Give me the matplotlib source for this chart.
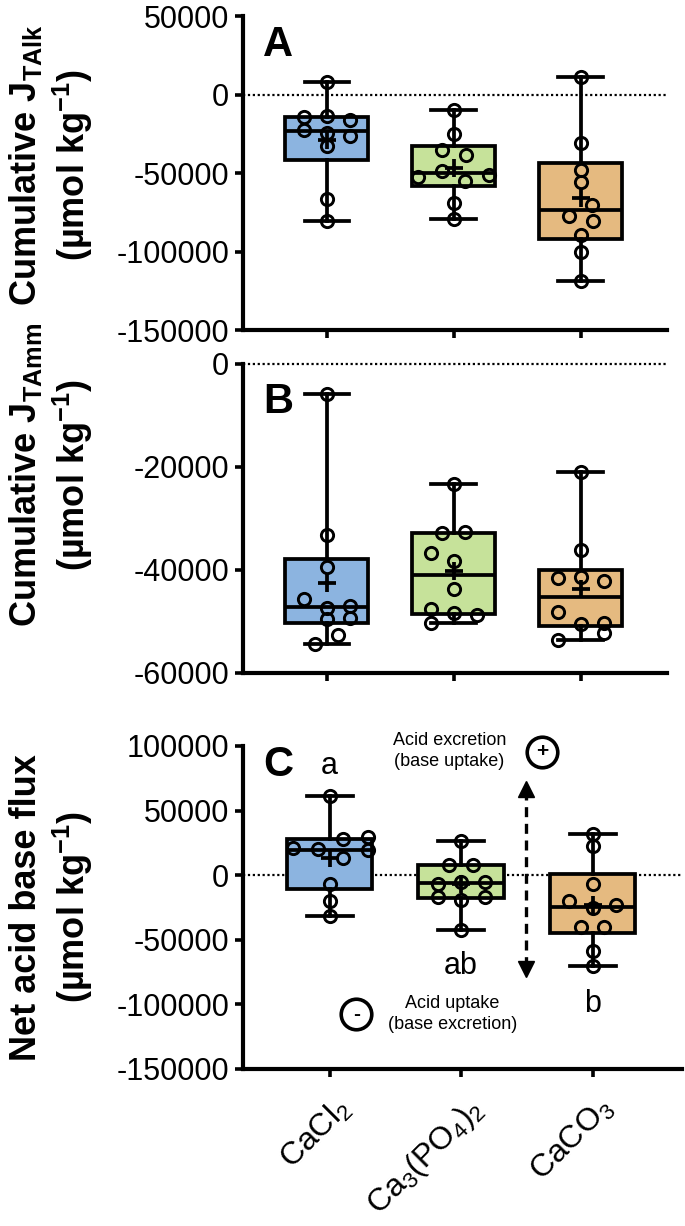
import numpy as np
import matplotlib
matplotlib.use("Agg")
import matplotlib.pyplot as plt
import matplotlib.transforms as mtransforms
from matplotlib import cbook

plt.rcParams['font.family'] = ['Liberation Sans', 'DejaVu Sans']
plt.rcParams['mathtext.fontset'] = 'custom'
plt.rcParams['mathtext.rm'] = 'Liberation Sans'
plt.rcParams['mathtext.bf'] = 'Liberation Sans:bold'
plt.rcParams['mathtext.default'] = 'regular'
plt.rcParams['axes.unicode_minus'] = False

# Categories
salts = ['CaCl$_2$', 'Ca$_3$(PO$_4$)$_2$', 'CaCO$_3$']
colors = ['#8CB4E0', '#C6E29A', '#E5BA80']

# A : cumulative J_TAlk (umol kg-1)
talk_cacl2 = [7900, -14200, -13800, -16000, -22300, -24500, -26200, -33000, -66600, -80500]
talk_capo4 = [-10000, -25100, -35600, -38500, -49000, -52200, -51500, -54900, -68800, -79200]
talk_caco3 = [11300, -30900, -47900, -55800, -70200, -77100, -80500, -89400, -100100, -118800]

# B : cumulative J_TAmm (umol kg-1)
tamm_cacl2 = [-5900, -33300, -39500, -45600, -47300, -47000, -49500, -49300, -52700, -54300]
tamm_capo4 = [-23300, -32800, -32600, -36800, -38200, -43600, -47500, -48400, -48700, -50300]
tamm_caco3 = [-20900, -36200, -41500, -41300, -42200, -48200, -50400, -50300, -52300, -53600]

# C : net acid base flux (umol kg-1)
net_cacl2 = [61400, 29800, 27800, 20700, 20000, 19400, 13000, -7200, -20200, -31900]
net_capo4 = [26400, 7800, 7800, -6500, -5200, -5700, -16900, -19400, -16900, -42200]
net_caco3 = [31600, 22600, -6500, -20200, -25400, -23300, -40200, -40200, -59100, -70000]

# horizontal jitter of the dots (as in the original scatter)
jit_a = [[0, -0.18, 0, 0.18, -0.18, 0, 0.18, 0, 0, 0],
         [0, 0, -0.09, 0.1, -0.09, -0.28, 0.28, 0.09, 0, 0],
         [0, 0, 0, 0, 0.09, -0.09, 0.1, 0, 0, 0]]
jit_b = [[0, 0, 0, -0.18, 0, 0.18, 0, 0.18, 0.09, -0.09],
         [0, -0.09, 0.09, -0.18, 0, 0, -0.18, 0, 0.18, -0.18],
         [0, 0, -0.18, 0, 0.18, -0.18, 0, 0.18, 0.18, -0.18]]
jit_c = [[0, 0.29, 0.1, -0.28, -0.09, 0.29, 0.1, 0, 0, 0],
         [0, -0.09, 0.09, -0.18, 0, 0.18, -0.18, 0, 0.18, 0],
         [0, 0, 0, -0.18, 0, 0.18, -0.09, 0.09, 0, 0]]

letters_c = ['a', 'ab', 'b']
letters_y = [84200, -70000, -99500]

fig = plt.figure(figsize=(6.85, 12.26), dpi=100)
axA = fig.add_axes([0.3547, 0.7308, 0.619, 0.2561])
axB = fig.add_axes([0.3547, 0.4511, 0.619, 0.2520])
axC = fig.add_axes([0.3547, 0.1281, 0.6409, 0.2635])


def panel(ax, groups, jitter):
    stats = cbook.boxplot_stats(groups, whis=(0, 100))
    for s, g in zip(stats, groups):
        s['q1'], s['med'], s['q3'] = np.percentile(g, [25, 50, 75], method='weibull')
    lw = 2.7
    bp = ax.bxp(stats, positions=range(3), widths=0.65, capwidths=0.35,
                showmeans=True, showfliers=False, patch_artist=True,
                boxprops=dict(linewidth=lw, edgecolor='k'),
                medianprops=dict(color='k', linewidth=lw),
                whiskerprops=dict(color='k', linewidth=lw),
                capprops=dict(color='k', linewidth=lw),
                meanprops=dict(marker='+', markersize=13, markeredgewidth=2.7,
                               markeredgecolor='k'))
    for patch, c in zip(bp['boxes'], colors):
        patch.set_facecolor(c)
    for i, (g, j) in enumerate(zip(groups, jitter)):
        ax.plot(i + np.array(j), g, 'o', ms=8.8, mfc='none', mec='k', mew=2.1, zorder=4)
    ax.axhline(0, color='k', lw=1.6, ls=(0, (1, 1.2)), zorder=0.5, clip_on=False)
    ax.set_xlim(-0.66, 2.68)
    ax.spines['top'].set_visible(False)
    ax.spines['right'].set_visible(False)
    ax.spines['left'].set_linewidth(3)
    ax.spines['bottom'].set_linewidth(3)
    ax.tick_params(direction='out', length=6, width=2.6, labelsize=22, pad=4)
    ax.set_xticks(range(3))


panel(axA, [talk_cacl2, talk_capo4, talk_caco3], jit_a)
axA.set_ylim(-150000, 50000)
axA.set_yticks([50000, 0, -50000, -100000, -150000])
axA.set_xticklabels([])
axA.set_ylabel('Cumulative J$_{\\mathbf{TAlk}}$\n(µmol kg$^{\\mathbf{-1}}$)',
               fontsize=26, fontweight='bold', linespacing=1.2)
axA.yaxis.set_label_coords(-0.35, 0.525)
axA.text(0.083, 0.908, 'A', transform=axA.transAxes, fontsize=30,
         fontweight='bold', ha='center', va='center')

panel(axB, [tamm_cacl2, tamm_capo4, tamm_caco3], jit_b)
axB.set_ylim(-60000, 0)
axB.set_yticks([0, -20000, -40000, -60000])
axB.set_xticklabels([])
axB.set_ylabel('Cumulative J$_{\\mathbf{TAmm}}$\n(µmol kg$^{\\mathbf{-1}}$)',
               fontsize=26, fontweight='bold', linespacing=1.2)
axB.yaxis.set_label_coords(-0.35, 0.64)
axB.text(0.083, 0.877, 'B', transform=axB.transAxes, fontsize=30,
         fontweight='bold', ha='center', va='center')

panel(axC, [net_cacl2, net_capo4, net_caco3], jit_c)
axC.set_ylim(-150000, 100000)
axC.set_yticks([100000, 50000, 0, -50000, -100000, -150000])
axC.tick_params(axis='x', pad=11)
axC.set_xticklabels(salts, rotation=45, ha='right', va='top',
                    rotation_mode='anchor', fontsize=23)
shift = mtransforms.ScaledTranslation(0.05, 0, fig.dpi_scale_trans)
for lab in axC.get_xticklabels():
    lab.set_transform(lab.get_transform() + shift)
axC.set_ylabel('Net acid base flux\n(µmol kg$^{\\mathbf{-1}}$)',
               fontsize=26, fontweight='bold', linespacing=1.2)
axC.yaxis.set_label_coords(-0.337, 0.5)
axC.text(0.08, 0.941, 'C', transform=axC.transAxes, fontsize=30,
         fontweight='bold', ha='center', va='center')
for i, (t, y) in enumerate(zip(letters_c, letters_y)):
    axC.text(i, y, t, fontsize=22, ha='center', va='center')

# direction annotations
axC.text(0.912, 96400, 'Acid excretion\n(base uptake)', fontsize=13,
         ha='center', va='center', linespacing=1.3)
axC.text(0.935, -107500, 'Acid uptake\n(base excretion)', fontsize=13,
         ha='center', va='center', linespacing=1.3)
axC.plot([1.616], [95400], 'o', ms=22, mfc='white', mec='k', mew=2.6, clip_on=False, zorder=5)
axC.text(1.616, 95400, '+', fontsize=15, fontweight='bold', ha='center', va='center', zorder=6)
axC.plot([0.203], [-107500], 'o', ms=22, mfc='white', mec='k', mew=2.6, zorder=5)
axC.text(0.203, -107500, '-', fontsize=15, fontweight='bold', ha='center', va='center', zorder=6)
axC.plot([1.494, 1.494], [66000, -72000], color='k', lw=2.4, ls=(0, (3, 2)), zorder=3)
axC.plot([1.494], [66500], '^', ms=11, color='k', zorder=3)
axC.plot([1.494], [-72500], 'v', ms=11, color='k', zorder=3)

fig.savefig('out.png', dpi=100)
